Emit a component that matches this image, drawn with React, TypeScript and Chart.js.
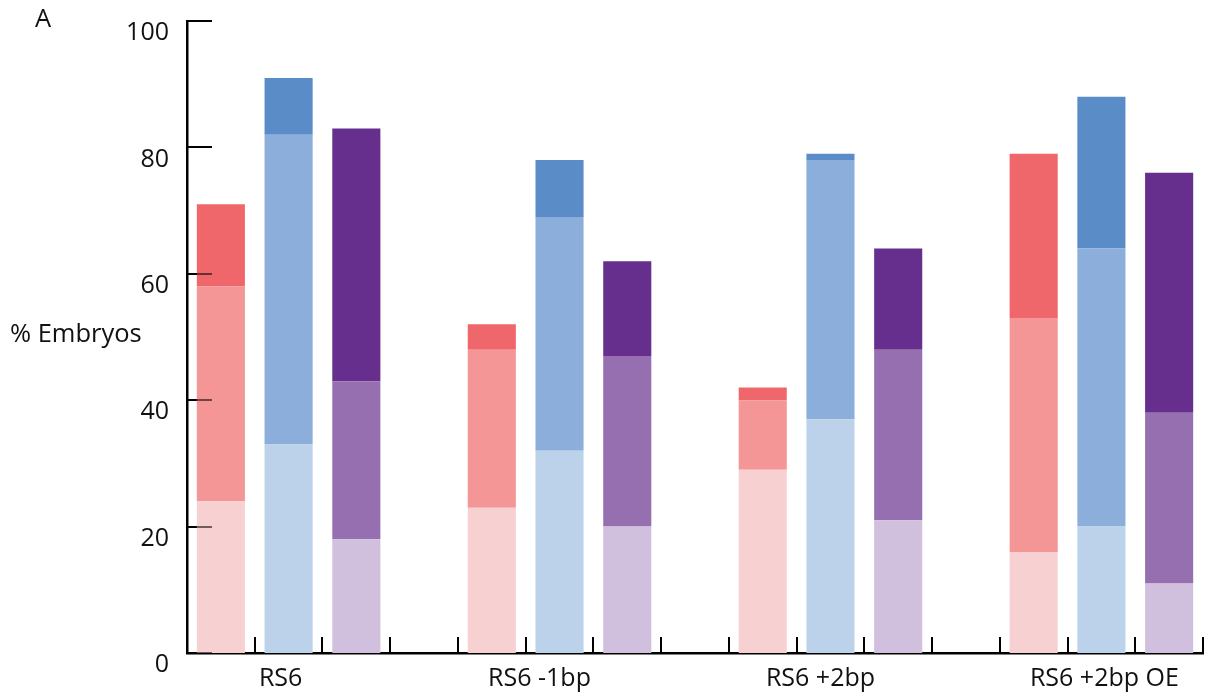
import { useEffect, useRef } from "react";
import { Chart, registerables } from "chart.js";

Chart.register(...registerables);

const FONT = '"Open Sans", "Noto Sans", "DejaVu Sans", sans-serif';

// Group names along the x axis and small horizontal nudges for their captions
const groups = ["RS6", "RS6 -1bp", "RS6 +2bp", "RS6 +2bp OE"];
const groupLabelShift = [-8, -20, -10, 3];
const yTickValues = [0, 20, 40, 60, 80, 100];

// Stacked segments (% embryos), bottom → top, one entry per group
const redLow = [24, 23, 29, 16];
const redMid = [34, 25, 11, 37];
const redHigh = [13, 4, 2, 26];
const blueLow = [33, 32, 37, 20];
const blueMid = [49, 37, 41, 44];
const blueHigh = [9, 9, 1, 24];
const purpleLow = [18, 20, 21, 11];
const purpleMid = [25, 27, 27, 27];
const purpleHigh = [40, 15, 16, 38];

// Shades per colour family: light, medium, dark
const redShades = ["#F7D0D2", "#F49596", "#EF676A"];
const blueShades = ["#BCD2EA", "#8BAFDA", "#5A8DC8"];
const purpleShades = ["#D0C0DE", "#966FB0", "#662E8D"];

const families = [
  { name: "red", layers: [redLow, redMid, redHigh], shades: redShades },
  { name: "blue", layers: [blueLow, blueMid, blueHigh], shades: blueShades },
  { name: "purple", layers: [purpleLow, purpleMid, purpleHigh], shades: purpleShades },
];

// 15 slots: three bars per group plus an empty spacer between groups
const slotLabels: string[] = [];
groups.forEach((g, gi) => {
  families.forEach((f) => slotLabels.push(`${g} ${f.name}`));
  if (gi < groups.length - 1) slotLabels.push(`${g} gap`);
});

const buildLayer = (layer: number) => {
  const data: (number | null)[] = [];
  const colors: string[] = [];
  groups.forEach((_, gi) => {
    families.forEach((f) => {
      data.push(f.layers[layer][gi]);
      colors.push(f.shades[layer]);
    });
    if (gi < groups.length - 1) {
      data.push(null);
      colors.push("rgba(0,0,0,0)");
    }
  });
  return { data, colors };
};

const layerNames = ["low", "mid", "high"];

const drawYTicks = (chart: any, color: string) => {
  const { ctx, chartArea, scales } = chart;
  const y = scales.y;
  ctx.save();
  ctx.strokeStyle = color;
  ctx.lineWidth = 2;
  yTickValues.forEach((v) => {
    const py = Math.round(y.getPixelForValue(v));
    ctx.beginPath();
    ctx.moveTo(chartArea.left, py);
    ctx.lineTo(chartArea.left + 25, py);
    ctx.stroke();
  });
  ctx.restore();
};

const decorPlugin = {
  id: "decor",
  beforeDatasetsDraw(chart: any) {
    const { ctx, chartArea, scales } = chart;
    const x = scales.x;
    drawYTicks(chart, "#000");
    ctx.save();
    ctx.strokeStyle = "#000";
    ctx.lineWidth = 2;
    // upward x ticks at slot boundaries
    const half = (x.getPixelForValue(1) - x.getPixelForValue(0)) / 2;
    for (let i = 0; i < slotLabels.length; i++) {
      const px = Math.round(x.getPixelForValue(i) + half);
      ctx.beginPath();
      ctx.moveTo(px, chartArea.bottom);
      ctx.lineTo(px, chartArea.bottom - 16);
      ctx.stroke();
    }
    ctx.restore();
  },
  afterDatasetsDraw(chart: any) {
    drawYTicks(chart, "rgba(0,0,0,0.55)");
  },
  afterDraw(chart: any) {
    const { ctx, chartArea, scales } = chart;
    const x = scales.x;
    ctx.save();
    ctx.fillStyle = "#111";
    ctx.font = `25px ${FONT}`;
    ctx.textBaseline = "alphabetic";
    ctx.textAlign = "center";
    groups.forEach((g, gi) => {
      const mid = gi * 4 + 1;
      ctx.fillText(g, x.getPixelForValue(mid) + groupLabelShift[gi], chartArea.bottom + 33);
    });
    ctx.textAlign = "left";
    ctx.font = `25.5px ${FONT}`;
    ctx.fillText("% Embryos", 10, 342);
    ctx.fillText("A", 35, 27);
    ctx.restore();
  },
};

export default function App() {
  const canvasRef = useRef<HTMLCanvasElement | null>(null);

  useEffect(() => {
    const canvas = canvasRef.current;
    if (!canvas) return;
    const datasets = [0, 1, 2].map((layer) => {
      const { data, colors } = buildLayer(layer);
      return {
        label: layerNames[layer],
        data,
        backgroundColor: colors,
        borderWidth: 0,
        barPercentage: 0.71,
        categoryPercentage: 1,
      };
    });

    const chart = new Chart(canvas, {
      type: "bar",
      data: { labels: slotLabels, datasets },
      options: {
        animation: false,
        responsive: false,
        maintainAspectRatio: false,
        layout: { padding: { top: 21, right: 9, bottom: 0, left: 0 } },
        plugins: {
          legend: { display: false },
          tooltip: { enabled: false },
        },
        scales: {
          x: {
            type: "category",
            stacked: true,
            offset: true,
            grid: { display: false },
            border: { display: true, color: "#000", width: 2.5 },
            ticks: { display: false },
            afterFit: (scale: any) => {
              scale.height = 47;
              scale.paddingLeft = 0;
              scale.paddingRight = 0;
            },
          },
          y: {
            stacked: true,
            min: 0,
            max: 100,
            grid: { display: false, drawTicks: false },
            border: { display: true, color: "#000", width: 2.5 },
            ticks: {
              stepSize: 20,
              padding: 18,
              labelOffset: 12,
              color: "#111",
              font: { family: FONT, size: 25 },
            },
            afterFit: (scale: any) => {
              scale.width = 187;
              scale.paddingTop = 0;
              scale.paddingBottom = 0;
            },
          },
        },
      },
      plugins: [decorPlugin],
    });

    return () => chart.destroy();
  }, []);

  return (
    <div style={{ position: "absolute", left: 0, top: 0, width: 1212, height: 700, background: "#fff" }}>
      <canvas ref={canvasRef} width={1212} height={700} style={{ display: "block" }} />
    </div>
  );
}
